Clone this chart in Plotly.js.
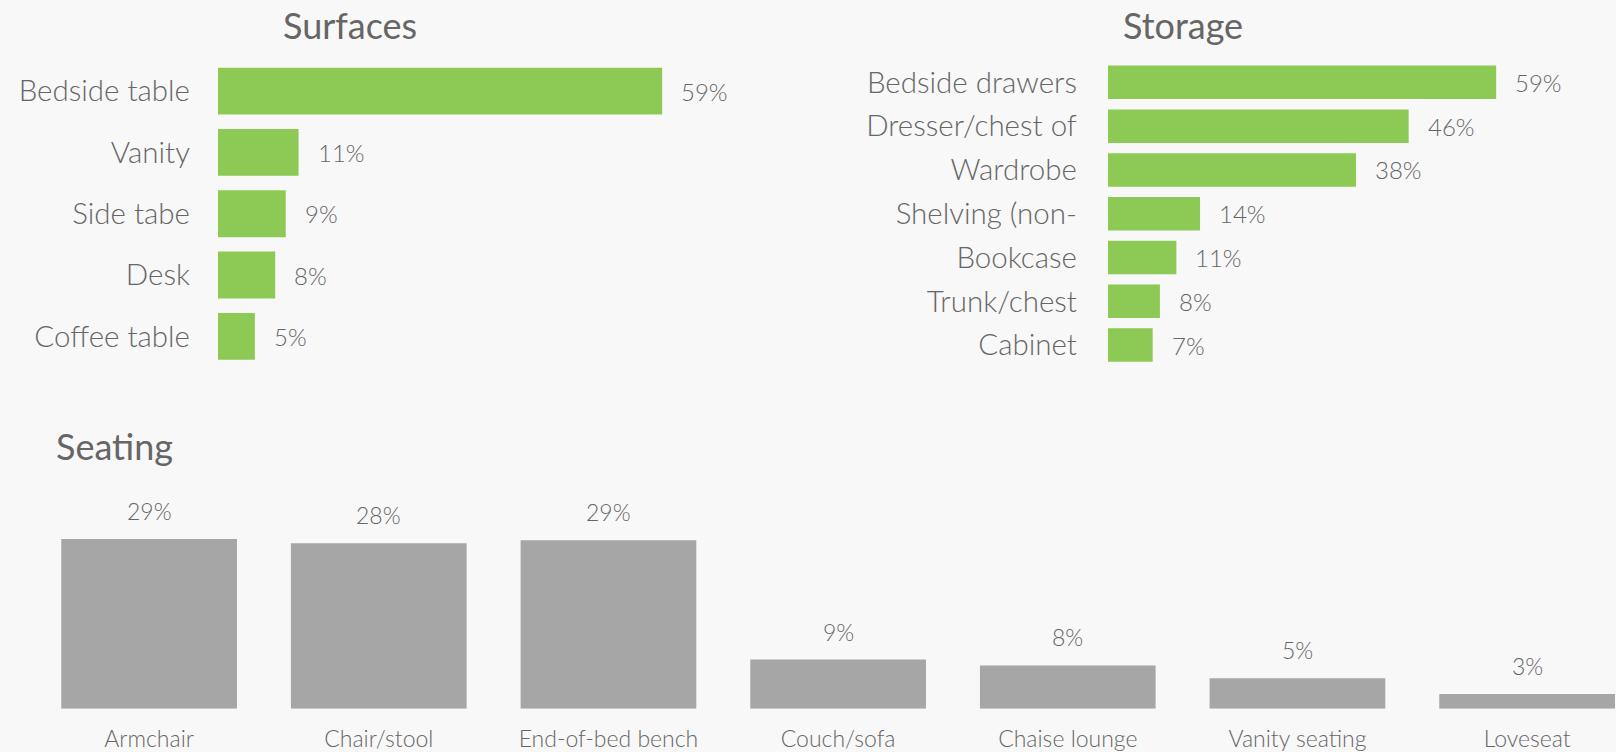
<!DOCTYPE html>
<html>
<head>
<meta charset="utf-8">
<script src="https://cdn.plot.ly/plotly-3.0.1.min.js"></script>
<style>
html,body{margin:0;padding:0;background:#f8f8f8;}
#chart{width:1616px;height:752px;}
</style>
</head>
<body>
<div id="chart"></div>
<script>
// ---- data ----
const surfacesCats = ["Bedside table", "Vanity", "Side tabe", "Desk", "Coffee table"];
const surfacesVals = [59, 10.7, 9, 7.6, 4.9];
const surfacesLabels = ["59%", "11%", "9%", "8%", "5%"];

const storageCats = ["Bedside drawers", "Dresser/chest of", "Wardrobe", "Shelving (non-", "Bookcase", "Trunk/chest", "Cabinet"];
const storageVals = [59, 45.7, 37.7, 14, 10.4, 7.9, 6.8];
const storageLabels = ["59%", "46%", "38%", "14%", "11%", "8%", "7%"];

const seatingCats = ["Armchair", "Chair/stool", "End-of-bed bench", "Couch/sofa", "Chaise lounge", "Vanity seating", "Loveseat"];
const seatingVals = [29, 28.3, 28.8, 8.4, 7.4, 5.2, 2.5];
const seatingLabels = ["29%", "28%", "29%", "9%", "8%", "5%", "3%"];

const panelTitles = ["Surfaces", "Storage", "Seating"];

// ---- style ----
const GREEN = "#8cc955";
const GREY = "#a6a6a6";
const TXT = "#666666";
const FONT = "Lato, 'Open Sans', sans-serif";
const W = 300;

const traces = [
  {type: "bar", orientation: "h", x: surfacesVals, y: surfacesCats, xaxis: "x", yaxis: "y",
   marker: {color: GREEN}, hoverinfo: "none"},
  {type: "bar", orientation: "h", x: storageVals, y: storageCats, xaxis: "x2", yaxis: "y2",
   marker: {color: GREEN}, hoverinfo: "none"},
  {type: "bar", x: seatingCats, y: seatingVals, xaxis: "x3", yaxis: "y3",
   marker: {color: GREY}, hoverinfo: "none"}
];

const valFont = {family: FONT, size: 24, color: TXT, weight: W};
const annotations = [];
surfacesCats.forEach((c, i) => annotations.push({
  x: surfacesVals[i], y: c, xref: "x", yref: "y", text: surfacesLabels[i],
  xanchor: "left", yanchor: "middle", xshift: 17, showarrow: false, font: valFont
}));
storageCats.forEach((c, i) => annotations.push({
  x: storageVals[i], y: c, xref: "x2", yref: "y2", text: storageLabels[i],
  xanchor: "left", yanchor: "middle", xshift: 17, showarrow: false, font: valFont
}));
seatingCats.forEach((c, i) => annotations.push({
  x: c, y: seatingVals[i], xref: "x3", yref: "y3", text: seatingLabels[i],
  xanchor: "center", yanchor: "bottom", yshift: 12, showarrow: false,
  font: {family: FONT, size: 23, color: TXT, weight: W}
}));
const titleFont = {family: FONT, size: 36, color: TXT, weight: 400};
annotations.push({x: 0.2166, y: 0.967, xref: "paper", yref: "paper", text: panelTitles[0],
  xanchor: "center", yanchor: "middle", showarrow: false, font: titleFont});
annotations.push({x: 0.732, y: 0.967, xref: "paper", yref: "paper", text: panelTitles[1],
  xanchor: "center", yanchor: "middle", showarrow: false, font: titleFont});
annotations.push({x: 0.0335, y: 0.4075, xref: "paper", yref: "paper", text: panelTitles[2],
  xanchor: "left", yanchor: "middle", showarrow: false, font: titleFont});

const hiddenX = {showgrid: false, zeroline: false, showticklabels: false, showline: false, ticks: "", fixedrange: true};
const catFont = {family: FONT, size: 29.5, color: TXT, weight: W};

const layout = {
  width: 1616, height: 752,
  margin: {l: 0, r: 0, t: 0, b: 0, pad: 0},
  paper_bgcolor: "#f8f8f8", plot_bgcolor: "#f8f8f8",
  showlegend: false,
  bargap: 0.235,
  font: {family: FONT, color: TXT},
  xaxis: Object.assign({}, hiddenX, {domain: [0.1349, 0.461], range: [0, 70], anchor: "y"}),
  yaxis: {domain: [0.512, 0.9196], type: "category", range: [4.5, -0.5], anchor: "x",
          showgrid: false, zeroline: false, showline: false, ticks: "",
          ticklabelstandoff: 27, tickfont: catFont},
  xaxis2: Object.assign({}, hiddenX, {domain: [0.6856, 0.991], range: [0, 75], anchor: "y2"}),
  yaxis2: {domain: [0.512, 0.9196], type: "category", range: [6.5, -0.5], anchor: "x2",
           showgrid: false, zeroline: false, showline: false, ticks: "",
           ticklabelstandoff: 30, tickfont: catFont},
  xaxis3: {domain: [0.02122, 1], type: "category", range: [-0.5, 6.387], anchor: "y3",
           showgrid: false, zeroline: false, showline: false, ticks: "",
           ticklabelstandoff: 14, tickfont: {family: FONT, size: 23, color: TXT, weight: W}},
  yaxis3: Object.assign({}, hiddenX, {domain: [0.0576, 0.3298], range: [0, 35], anchor: "x3"}),
  annotations: annotations
};

Plotly.newPlot("chart", traces, layout, {staticPlot: true, displayModeBar: false});
</script>
</body>
</html>
